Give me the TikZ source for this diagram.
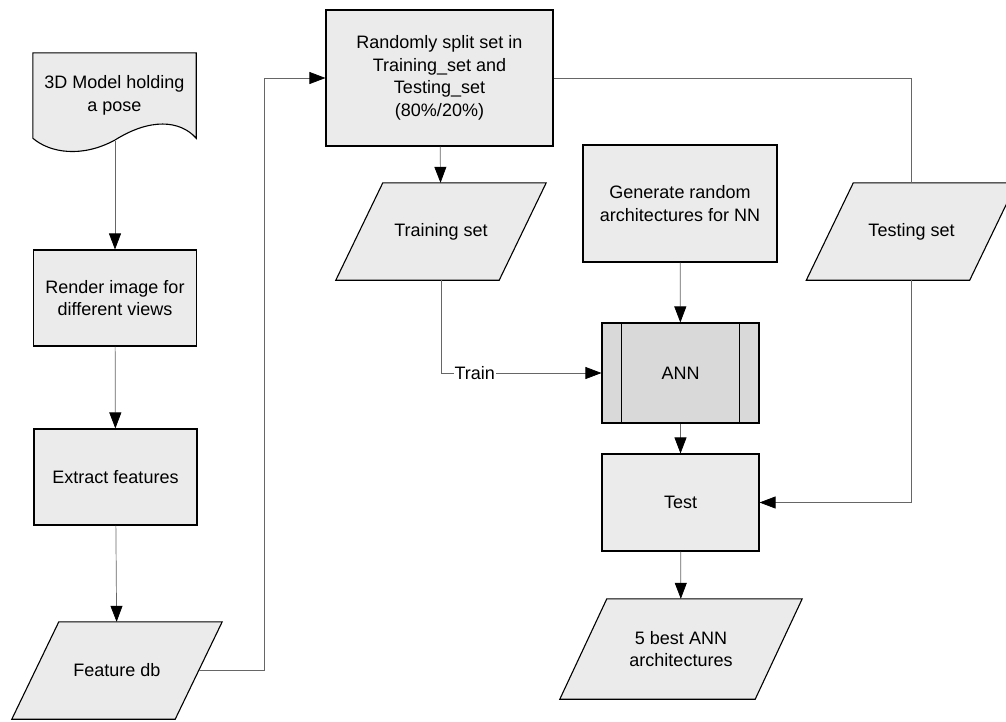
\documentclass[tikz,border=0pt]{standalone}
\usepackage{fontspec}
\setmainfont{Liberation Sans}
\usetikzlibrary{arrows.meta,backgrounds}

\begin{document}
\begin{tikzpicture}[x=1pt,y=-1pt,
    font=\fontsize{18}{22.5}\selectfont,
    box/.style={draw,fill=black!8,line width=1.1pt,minimum width=163pt,minimum height=96pt,align=center,inner sep=0pt},
    iobox/.style={minimum width=210pt,minimum height=97pt,align=center,inner sep=0pt},
    conn/.style={black!60,line width=0.7pt},
    arr/.style={conn,-{Triangle[length=16pt,width=12pt,color=black]}}]
    \useasboundingbox (0,0) rectangle (1006,721);

    % left column
    \node[align=center,minimum width=163pt,minimum height=85pt,inner sep=0pt] (model) at (114.5,95.5) {};
    \draw[fill=black!8,line width=1.1pt] (model.north west) -- (model.north east) -- (model.south east)
        .. controls (180,120) and (150,118) .. (115,140)
        .. controls (82,158) and (50,153) .. (model.south west) -- cycle;
    \node[align=center] at (model) {3D Model holding\\a pose};
    \coordinate (modelbot) at (115,141);
    \node[box] (render) at (115,298) {Render image for\\different views};
    \node[box] (extract) at (115.5,477) {Extract features};
    \node[iobox] (featdb) at (117,670.5) {Feature db};

    % middle
    \node[box,minimum width=227pt,minimum height=136pt] (split) at (439.5,78) {Randomly split set in\\Training\_set and\\Testing\_set\\(80\%/20\%)};
    \node[iobox] (train) at (441,231.5) {Training set};
    \node[box,minimum width=194pt,minimum height=117pt] (gen) at (680,203.5) {Generate random\\architectures for NN};
    \node[box,fill=black!15,minimum width=157pt,minimum height=100pt] (ann) at (680.5,373) {ANN};
    \draw[line width=1.1pt] ([xshift=20pt]ann.north west) -- ([xshift=20pt]ann.south west)
        ([xshift=-20pt]ann.north east) -- ([xshift=-20pt]ann.south east);
    \node[box,minimum width=157pt,minimum height=97pt] (test) at (680.5,502.5) {Test};
    \node[iobox,minimum width=242pt,minimum height=100pt] (best) at (681,649) {5 best ANN\\architectures};
    \node[iobox] (testset) at (911.5,231.5) {Testing set};

    % parallelograms behind the text
    \begin{scope}[on background layer]
        \foreach \n in {featdb,train,testset,best}
            \draw[fill=black!8,line width=1.1pt] ([xshift=47pt]\n.north west) -- (\n.north east)
                -- ([xshift=-47pt]\n.south east) -- (\n.south west) -- cycle;
    \end{scope}

    % connectors
    \draw[arr] (modelbot) -- (render);
    \draw[arr] (render) -- (extract);
    \draw[arr] (extract) -- (featdb);
    \draw[arr] ([xshift=-23.5pt]featdb.east) -- ++(66,0) |- (split.west);
    \draw[arr] (split) -- (train);
    \draw[conn] (split.east) -| (testset.north);
    \draw[arr] (train.south) |- node[pos=0.605,fill=white,text=black,inner sep=1pt] {Train} (ann.west);
    \draw[arr] (gen) -- (ann);
    \draw[arr] (ann) -- (test);
    \draw[arr] (testset.south) |- (test.east);
    \draw[arr] (test) -- (best);
\end{tikzpicture}
\end{document}
